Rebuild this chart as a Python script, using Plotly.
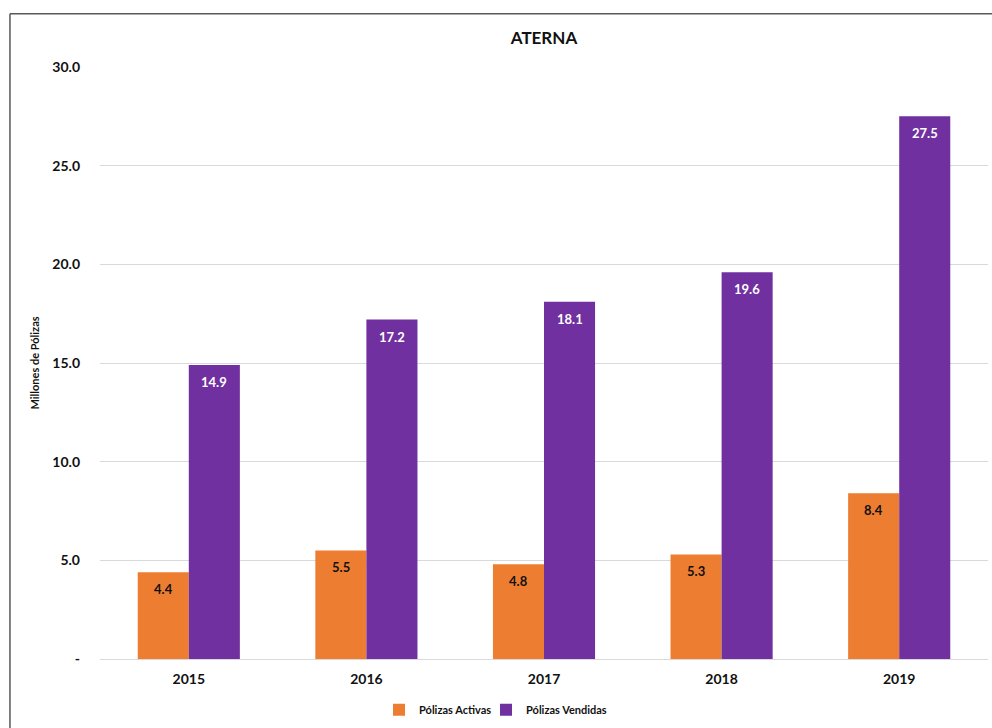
import plotly.graph_objects as go

# ── Data ──────────────────────────────────────────────────────────────────────
years = ["2015", "2016", "2017", "2018", "2019"]
polizas_activas = [4.4, 5.5, 4.8, 5.3, 8.4]
polizas_vendidas = [14.9, 17.2, 18.1, 19.6, 27.5]
y_tickvals = [0, 5, 10, 15, 20, 25, 30]
y_ticktext = ["-", "5.0", "10.0", "15.0", "20.0", "25.0", "30.0"]

ORANGE = "#ED7D31"
PURPLE = "#7030A0"
FONT = "Lato, 'Open Sans', sans-serif"

W, H = 992, 728

fig = go.Figure()

fig.add_trace(go.Bar(
    x=years, y=polizas_activas,
    name="Pólizas Activas", legend="legend",
    marker=dict(color=ORANGE, line=dict(width=0)),
))
fig.add_trace(go.Bar(
    x=years, y=polizas_vendidas,
    name="Pólizas Vendidas", legend="legend2",
    marker=dict(color=PURPLE, line=dict(width=0)),
))

# value labels, a little below the top of each bar
# (category index is used for x: numeric-looking strings get read as positions)
for series, shift, colour in [(polizas_activas, -25.5, "#111111"),
                              (polizas_vendidas, 25.5, "white")]:
    for i, v in enumerate(series):
        fig.add_annotation(
            x=i, y=v, xshift=shift, yshift=-17,
            text=f"<b>{v:.1f}</b>", showarrow=False,
            xanchor="center", yanchor="middle",
            font=dict(size=13, family=FONT, color=colour),
        )

# ── Layout ────────────────────────────────────────────────────────────────────
legend_style = dict(
    orientation="h", xanchor="left", y=-0.0857, yanchor="middle",
    font=dict(size=11, family=FONT, weight="bold"),
    bgcolor="rgba(0,0,0,0)",
)
fig.update_layout(
    width=W, height=H,
    margin=dict(l=100, r=4, t=67, b=63),
    paper_bgcolor="white", plot_bgcolor="white",
    barmode="group", bargap=0.425, bargroupgap=0,
    font=dict(family=FONT, color="#111111"),
    title=dict(
        text="<b>ATERNA</b>", x=0.5, xref="paper", xanchor="center",
        y=1 - 38 / H, yref="container", yanchor="middle",
        font=dict(size=17, family=FONT, color="#111111"),
    ),
    legend=dict(x=0.3142, **legend_style),
    legend2=dict(x=0.4347, **legend_style),
    showlegend=True,
)

fig.update_xaxes(
    type="category",
    showgrid=False, showline=False, ticks="",
    tickfont=dict(size=14, family=FONT, weight="bold"),
    range=[-0.5, 4.5], ticklabelstandoff=10,
)
fig.update_yaxes(
    range=[0, 30], tickvals=y_tickvals, ticktext=y_ticktext,
    showgrid=True, gridcolor="#D9D9D9", gridwidth=1,
    zeroline=True, zerolinecolor="#D9D9D9", zerolinewidth=1,
    showline=False, ticks="", ticklabelstandoff=19,
    tickfont=dict(size=14, family=FONT, weight="bold"),
    title=dict(text="<b>Millones de Pólizas</b>", font=dict(size=11, family=FONT), standoff=10),
)

# chart border (left and top edges visible in the crop)
fig.add_shape(type="line", xref="paper", yref="paper",
              x0=-0.1014, x1=-0.1014, y0=1.09, y1=-0.2,
              line=dict(color="#595959", width=1.5))
fig.add_shape(type="line", xref="paper", yref="paper",
              x0=-0.1014, x1=1.1, y0=1.09, y1=1.09,
              line=dict(color="#595959", width=1.5))

# drop the default body margin so the figure sits at the page origin
fig.write_html(
    "out.html",
    config={"displayModeBar": False},
    post_script="document.body.style.margin='0';document.body.style.overflow='hidden';",
)
